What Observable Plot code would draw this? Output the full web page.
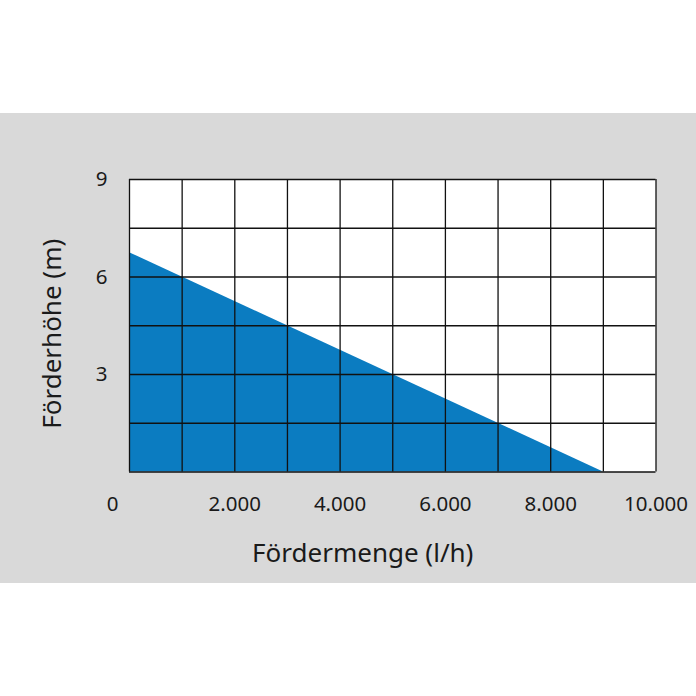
<!DOCTYPE html>
<html>
<head>
<meta charset="utf-8">
<script src="https://cdn.jsdelivr.net/npm/d3@7"></script>
<script src="https://cdn.jsdelivr.net/npm/@observablehq/plot@0.6"></script>
<style>
  html, body { margin: 0; padding: 0; background: #ffffff; }
  #chart {
    width: 696px; height: 696px; position: relative;
    background: linear-gradient(to bottom, #ffffff 0px, #ffffff 113px, #d9d9d9 113px, #d9d9d9 583px, #ffffff 583px);
  }
  #chart svg { display: block; background: transparent; }
</style>
</head>
<body>
<div id="chart"></div>
<script>
// Pump curve: flow rate (l/h) vs delivery head (m)
const flowValues = [0, 9000];
const headValues = [6.75, 0];
const xTicks = [2000, 4000, 6000, 8000, 10000];
const yTicks = [3, 6, 9];
const xGrid = d3.range(0, 10001, 1000);
const yGrid = [0, 1.5, 3, 4.5, 6, 7.5, 9];
const xLabel = "Fördermenge (l/h)";
const yLabel = "Förderhöhe (m)";

const curve = flowValues.map((x, i) => ({x, y: headValues[i]}));
const fmt = d => d3.format(",")(d).replace(/,/g, ".");

const font = "'Noto Sans', sans-serif";
const plot = Plot.plot({
  width: 696,
  height: 696,
  marginLeft: 129,
  marginRight: 40.5,
  marginTop: 179,
  marginBottom: 224.5,
  style: {background: "transparent", fontFamily: font, color: "#1a1a1a"},
  x: {domain: [0, 10000]},
  y: {domain: [0, 9]},
  marks: [
    Plot.frame({fill: "white", stroke: null}),
    Plot.areaY(curve, {x: "x", y: "y", fill: "#0b7cc1"}),
    Plot.ruleX(xGrid, {stroke: "#111", strokeWidth: 1.3}),
    Plot.ruleY(yGrid, {stroke: "#111", strokeWidth: 1.3}),
    Plot.axisX(xTicks, {tickSize: 0, tickPadding: 24, tickFormat: fmt, fontSize: 20.5, label: null, fill: "#1a1a1a"}),
    Plot.text([0], {x: d => d, frameAnchor: "bottom", lineAnchor: "top", text: d => String(d), dx: -17, dy: 24, fontSize: 20.5, fill: "#1a1a1a"}),
    Plot.axisY(yTicks, {tickSize: 0, tickPadding: 22, fontSize: 20.5, label: null, fill: "#1a1a1a"}),
    Plot.text([xLabel], {frameAnchor: "bottom", textAnchor: "middle", lineAnchor: "middle", dx: -30, dy: 82, fontSize: 26, fill: "#1a1a1a"}),
    Plot.text([yLabel], {frameAnchor: "left", textAnchor: "middle", lineAnchor: "middle", rotate: -90, dx: -77, dy: 8, fontSize: 26, fill: "#1a1a1a"})
  ]
});
document.getElementById("chart").appendChild(plot);
</script>
</body>
</html>
